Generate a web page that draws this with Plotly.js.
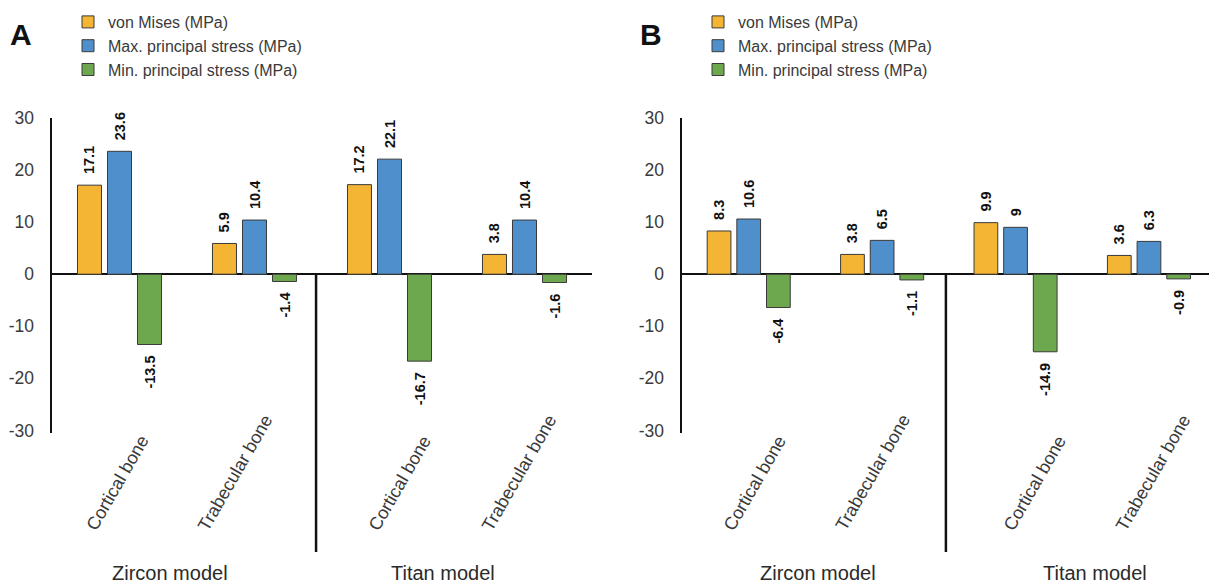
<!DOCTYPE html>
<html>
<head>
<meta charset="utf-8">
<script src="https://cdn.plot.ly/plotly-3.0.1.min.js"></script>
<style>html,body{margin:0;padding:0;background:#fff;}#chart{width:1209px;height:586px;}</style>
</head>
<body>
<div id="chart"></div>
<script>
// ---- data ----
var seriesNames = ['von Mises (MPa)', 'Max. principal stress (MPa)', 'Min. principal stress (MPa)'];
var categoryLabels = ['Cortical bone', 'Trabecular bone', 'Cortical bone', 'Trabecular bone'];
var groupLabels = ['Zircon model', 'Titan model'];
var yTicks = [-30, -20, -10, 0, 10, 20, 30];

// Panel A
var vonMisesA = [17.1, 5.9, 17.2, 3.8];
var maxPrincipalA = [23.6, 10.4, 22.1, 10.4];
var minPrincipalA = [-13.5, -1.4, -16.7, -1.6];
// Panel B
var vonMisesB = [8.3, 3.8, 9.9, 3.6];
var maxPrincipalB = [10.6, 6.5, 9, 6.3];
var minPrincipalB = [-6.4, -1.1, -14.9, -0.9];

// ---- styles ----
var colors = ['#F4B434', '#4F8FCB', '#6DA84F'];
var xPos = [0, 1, 2, 3];
var NB = '\u00a0';

function labelText(vals) {
  return vals.map(function (v) {
    return v >= 0 ? NB + NB + String(v) : String(v) + NB + NB;
  });
}

function makeTraces(seriesList, xa, ya, legendName) {
  return seriesList.map(function (vals, i) {
    return {
      type: 'bar',
      name: seriesNames[i],
      x: xPos,
      y: vals,
      xaxis: xa,
      yaxis: ya,
      legend: legendName,
      marker: {color: colors[i], line: {color: '#3a3a3a', width: 1}},
      text: labelText(vals),
      textposition: 'outside',
      textangle: -90,
      constraintext: 'none',
      cliponaxis: false,
      textfont: {family: 'Liberation Sans, Arial, sans-serif', size: 14.5, color: '#111', weight: 'bold'},
      hoverinfo: 'x+y+name'
    };
  });
}

var traces = makeTraces([vonMisesA, maxPrincipalA, minPrincipalA], 'x', 'y', 'legend')
  .concat(makeTraces([vonMisesB, maxPrincipalB, minPrincipalB], 'x2', 'y2', 'legend2'));

var tickFont = {family: 'Liberation Sans, Arial, sans-serif', size: 17.5, color: '#3a3a3a'};

function yAxis(anchor) {
  return {
    anchor: anchor,
    domain: [0, 1],
    range: [-30.5, 30],
    tickvals: yTicks,
    ticktext: yTicks.map(String),
    ticks: '',
    ticklabelstandoff: 12,
    showgrid: false,
    showline: true,
    linecolor: '#111',
    linewidth: 2.5,
    zeroline: true,
    zerolinecolor: '#111',
    zerolinewidth: 2.5,
    tickfont: tickFont,
    fixedrange: true
  };
}
function xAxis(anchor, domain, range) {
  return {
    anchor: anchor,
    domain: domain,
    range: range,
    showgrid: false,
    showline: false,
    zeroline: false,
    showticklabels: false,
    ticks: '',
    fixedrange: true
  };
}

var plotBottom = 433, plotH = 315;
function paperY(px) { return (plotBottom - px) / plotH; }
function paperX(px) { return px / 1209; }

var catFont = {family: 'Liberation Sans, Arial, sans-serif', size: 18, color: '#3a3a3a'};
var groupFont = {family: 'Liberation Sans, Arial, sans-serif', size: 20, color: '#2a2a2a'};

// label bounding-box centres (px)
var catCentersA = [117.5, 235, 400, 519];
var catCentersB = [755, 872.5, 1035, 1153];
var groupCentersA = [170, 443];
var groupCentersB = [818, 1095];

var annotations = [];
function addCats(centers) {
  centers.forEach(function (cx, i) {
    annotations.push({
      text: categoryLabels[i], xref: 'paper', yref: 'paper',
      x: paperX(cx), y: paperY(537), xanchor: 'center', yanchor: 'bottom',
      textangle: -60, showarrow: false, font: catFont
    });
  });
}
function addGroups(centers) {
  centers.forEach(function (cx, i) {
    annotations.push({
      text: groupLabels[i], xref: 'paper', yref: 'paper',
      x: paperX(cx), y: paperY(573), xanchor: 'center', yanchor: 'middle',
      showarrow: false, font: groupFont
    });
  });
}
addCats(catCentersA); addCats(catCentersB);
addGroups(groupCentersA); addGroups(groupCentersB);
annotations.push({text: 'A', xref: 'paper', yref: 'paper', x: paperX(21), y: paperY(34),
  xanchor: 'center', yanchor: 'middle', showarrow: false,
  font: {family: 'Liberation Sans, Arial, sans-serif', size: 30, color: '#111', weight: 'bold'}});
annotations.push({text: 'B', xref: 'paper', yref: 'paper', x: paperX(651), y: paperY(34),
  xanchor: 'center', yanchor: 'middle', showarrow: false,
  font: {family: 'Liberation Sans, Arial, sans-serif', size: 30, color: '#111', weight: 'bold'}});

var zeroPaper = 30.5 / 60.5;
var shapes = [
  {type: 'line', xref: 'x', yref: 'paper', x0: 1.456, x1: 1.456, y0: zeroPaper, y1: paperY(552),
   line: {color: '#111', width: 2.5}},
  {type: 'line', xref: 'x2', yref: 'paper', x0: 1.478, x1: 1.478, y0: zeroPaper, y1: paperY(552),
   line: {color: '#111', width: 2.5}}
];

var legendFont = {family: 'Liberation Sans, Arial, sans-serif', size: 16, color: '#3a3a3a'};
function legendCfg(px) {
  return {
    x: paperX(px), xanchor: 'left', y: paperY(5), yanchor: 'top',
    font: legendFont, bgcolor: 'rgba(0,0,0,0)', borderwidth: 0,
    traceorder: 'normal', tracegroupgap: 0, itemclick: false, itemdoubleclick: false
  };
}

var layout = {
  width: 1209, height: 586,
  margin: {l: 0, r: 0, t: 118, b: 586 - plotBottom},
  paper_bgcolor: '#fff', plot_bgcolor: '#fff',
  barmode: 'group', bargap: 0.333, bargroupgap: 0.2,
  showlegend: true,
  legend: legendCfg(68),
  legend2: legendCfg(698),
  xaxis: xAxis('y', [paperX(52), paperX(592)], [-0.5, 3.5]),
  yaxis: yAxis('x'),
  xaxis2: xAxis('y2', [paperX(682), 1], [-0.5, 3.45]),
  yaxis2: yAxis('x2'),
  annotations: annotations,
  shapes: shapes,
  font: {family: 'Liberation Sans, Arial, sans-serif'}
};

Plotly.newPlot('chart', traces, layout, {displayModeBar: false, staticPlot: true});
</script>
</body>
</html>
